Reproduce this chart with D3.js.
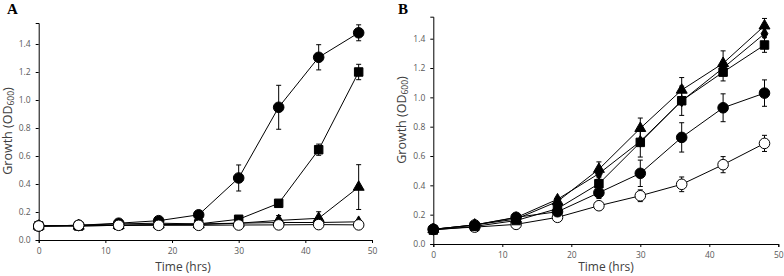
<!DOCTYPE html>
<html>
<head>
<meta charset="utf-8">
<script src="https://cdn.jsdelivr.net/npm/d3@7"></script>
<style>
  body { margin: 0; background: #fff; }
  svg { display: block; }
  .tick text { font-family: "Open Sans", sans-serif; font-size: 8.5px; fill: #595959; }
</style>
</head>
<body>
<div id="chart"></div>
<script>
// growth curves, two panels (A, B)
var times = [0, 6, 12, 18, 24, 30, 36, 42, 48];
var xTicks = [0, 10, 20, 30, 40, 50];
var yTicks = [0, 0.2, 0.4, 0.6, 0.8, 1.0, 1.2, 1.4];

// panel A
var aCircle   = [0.10, 0.105, 0.12, 0.138, 0.18, 0.443, 0.948, 1.305, 1.48];
var aCircleE  = [0, 0, 0, 0, 0, 0.093, 0.157, 0.09, 0.057];
var aSquare   = [0.10, 0.10, 0.105, 0.11, 0.115, 0.148, 0.262, 0.645, 1.20];
var aSquareE  = [0, 0, 0, 0, 0, 0, 0, 0.04, 0.055];
var aTri      = [0.10, 0.10, 0.105, 0.11, 0.11, 0.12, 0.14, 0.155, 0.378];
var aTriE     = [0, 0, 0, 0, 0, 0, 0.035, 0.047, 0.16];
var aDiam     = [0.10, 0.105, 0.115, 0.12, 0.115, 0.12, 0.125, 0.125, 0.13];
var aOpen     = [0.10, 0.105, 0.105, 0.105, 0.105, 0.107, 0.108, 0.11, 0.108];

// panel B
var bTri      = [0.10, 0.13, 0.17, 0.29, 0.51, 0.789, 1.05, 1.232, 1.488];
var bTriE     = [0, 0, 0, 0, 0.05, 0.07, 0.085, 0.085, 0.05];
var bDiam     = [0.10, 0.13, 0.18, 0.305, 0.48, 0.70, 0.975, 1.20, 1.434];
var bSquare   = [0.095, 0.12, 0.16, 0.241, 0.411, 0.693, 0.977, 1.172, 1.357];
var bSquareE  = [0, 0, 0, 0, 0.04, 0.1, 0.1, 0.06, 0.05];
var bCircle   = [0.10, 0.13, 0.182, 0.22, 0.35, 0.482, 0.727, 0.929, 1.029];
var bCircleE  = [0, 0, 0, 0, 0.04, 0.09, 0.1, 0.095, 0.09];
var bOpen     = [0.10, 0.115, 0.134, 0.182, 0.261, 0.329, 0.407, 0.541, 0.686];
var bOpenE    = [0, 0, 0, 0, 0, 0.04, 0.05, 0.055, 0.055];

var width = 784, height = 276;

var svg = d3.select("#chart").append("svg")
    .attr("width", width)
    .attr("height", height);

var panels = [
  { label: "A", lx: 7, x0: 38.7, x1: 372, y0: 240, y1: 23, titleX: 7, titleY: 131, timeX: 183, timeY: 271,
    series: [
      { v: aDiam, e: null, m: "diamond", fill: "#000" },
      { v: aTri, e: aTriE, m: "triangle", fill: "#000" },
      { v: aSquare, e: aSquareE, m: "square", fill: "#000" },
      { v: aCircle, e: aCircleE, m: "circle", fill: "#000" },
      { v: aOpen, e: null, m: "circle", fill: "#fff" }
    ] },
  { label: "B", lx: 398, x0: 433.3, x1: 778.3, y0: 244, y1: 16.7, titleX: 401, titleY: 120, timeX: 606, timeY: 271,
    series: [
      { v: bOpen, e: bOpenE, m: "circle", fill: "#fff" },
      { v: bCircle, e: bCircleE, m: "circle", fill: "#000" },
      { v: bSquare, e: bSquareE, m: "square", fill: "#000" },
      { v: bDiam, e: null, m: "diamond", fill: "#000" },
      { v: bTri, e: bTriE, m: "triangle", fill: "#000" }
    ] }
];

var symbols = {
  circle:   d3.symbol().type(d3.symbolCircle).size(88),
  square:   d3.symbol().type(d3.symbolSquare).size(72),
  triangle: d3.symbol().type(d3.symbolTriangle).size(52),
  diamond:  d3.symbol().type(d3.symbolDiamond).size(40)
};

panels.forEach(function(p) {
  var x = d3.scaleLinear().domain([0, 50]).range([p.x0, p.x1]);
  var y = d3.scaleLinear().domain([0, 1.55]).range([p.y0, p.y1]);
  var g = svg.append("g");

  g.append("g")
    .attr("transform", "translate(0," + p.y0 + ")")
    .call(d3.axisBottom(x).tickValues(xTicks).tickSize(3).tickPadding(5).tickFormat(d3.format("d")))
    .call(function(a) { a.select(".domain").attr("stroke", "#000"); a.selectAll(".tick line").attr("stroke", "#000"); });

  g.append("g")
    .attr("transform", "translate(" + p.x0 + ",0)")
    .call(d3.axisLeft(y).tickValues(yTicks).tickSize(3).tickPadding(5).tickFormat(d3.format(".1f")))
    .call(function(a) { a.select(".domain").attr("stroke", "#000"); a.selectAll(".tick line").attr("stroke", "#000"); });

  // panel letter
  g.append("text")
    .attr("x", p.lx).attr("y", 14)
    .style("font-family", "'Liberation Serif', serif")
    .style("font-weight", "bold").style("font-size", "15px")
    .text(p.label);

  // axis titles
  g.append("text")
    .attr("x", p.timeX).attr("y", p.timeY)
    .attr("text-anchor", "middle")
    .style("font-family", "'Open Sans', sans-serif").style("font-size", "12px").style("fill", "#404040")
    .text("Time (hrs)");

  var yt = g.append("text")
    .attr("transform", "translate(" + (p.titleX + 4.5) + "," + p.titleY + ") rotate(-90)")
    .attr("text-anchor", "middle")
    .style("font-family", "'Open Sans', sans-serif").style("font-size", "12.5px").style("fill", "#404040");
  yt.append("tspan").text("Growth (OD");
  yt.append("tspan").attr("dy", 2.5).style("font-size", "8.5px").text("600");
  yt.append("tspan").attr("dy", -2.5).text(")");

  var line = d3.line()
    .x(function(d, i) { return x(times[i]); })
    .y(function(d) { return y(d); });

  p.series.forEach(function(s) {
    var sg = g.append("g");
    sg.append("path")
      .datum(s.v)
      .attr("d", line)
      .attr("fill", "none")
      .attr("stroke", "#000")
      .attr("stroke-width", 1);

    if (s.e) {
      var eb = sg.selectAll(".err")
        .data(s.v.map(function(v, i) { return { t: times[i], v: v, e: s.e[i] }; }).filter(function(d) { return d.e > 0; }))
        .enter().append("g");
      eb.append("line")
        .attr("x1", function(d) { return x(d.t); }).attr("x2", function(d) { return x(d.t); })
        .attr("y1", function(d) { return y(d.v - d.e); }).attr("y2", function(d) { return y(d.v + d.e); })
        .attr("stroke", "#000").attr("stroke-width", 1);
      [-1, 1].forEach(function(sgn) {
        eb.append("line")
          .attr("x1", function(d) { return x(d.t) - 2.5; }).attr("x2", function(d) { return x(d.t) + 2.5; })
          .attr("y1", function(d) { return y(d.v + sgn * d.e); }).attr("y2", function(d) { return y(d.v + sgn * d.e); })
          .attr("stroke", "#000").attr("stroke-width", 1);
      });
    }

    sg.selectAll(".pt")
      .data(s.v)
      .enter().append("path")
      .attr("d", symbols[s.m])
      .attr("transform", function(d, i) { return "translate(" + x(times[i]) + "," + y(d) + ")"; })
      .attr("fill", s.fill)
      .attr("stroke", "#000")
      .attr("stroke-width", 1);
  });
});
</script>
</body>
</html>
